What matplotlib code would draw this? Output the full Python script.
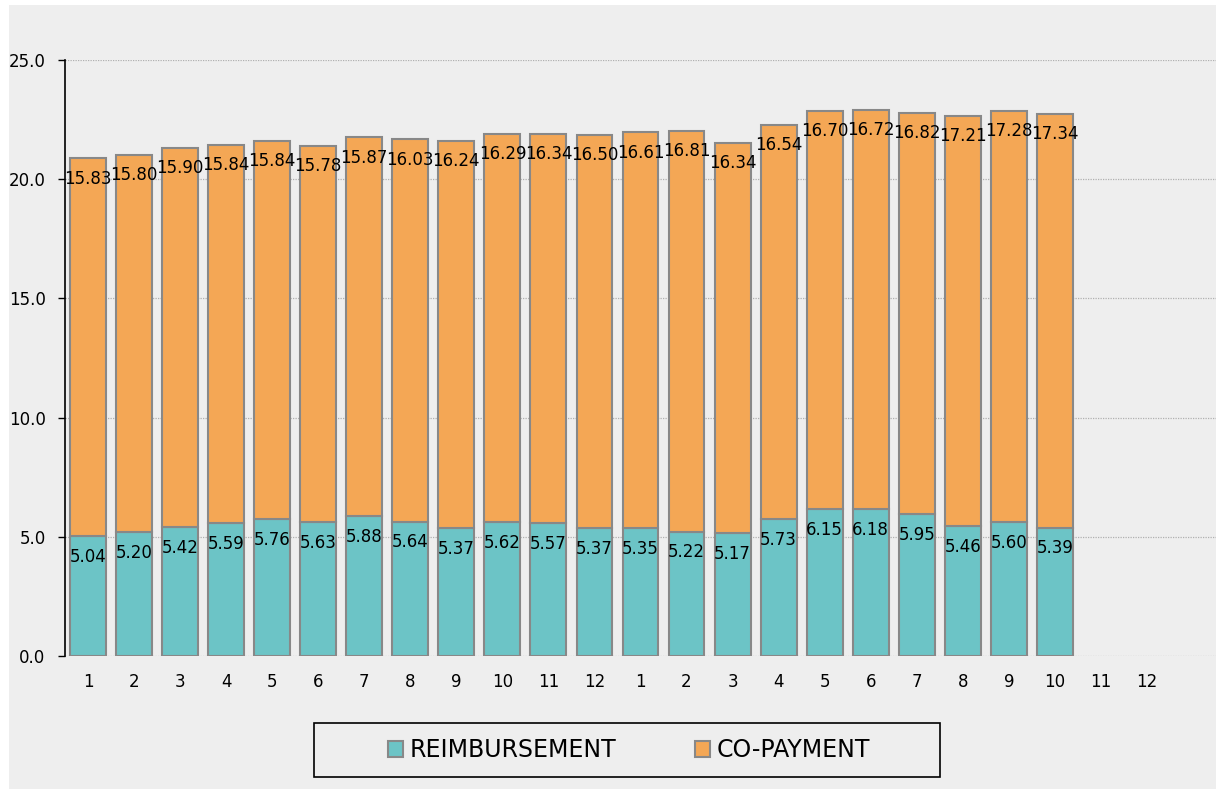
import matplotlib
matplotlib.use("Agg")
import matplotlib.pyplot as plt
from matplotlib.patches import Rectangle
import numpy as np

categories = ["1", "2", "3", "4", "5", "6", "7", "8", "9", "10", "11", "12",
              "1", "2", "3", "4", "5", "6", "7", "8", "9", "10", "11", "12"]
reimbursement = [5.04, 5.20, 5.42, 5.59, 5.76, 5.63, 5.88, 5.64, 5.37, 5.62, 5.57, 5.37,
                 5.35, 5.22, 5.17, 5.73, 6.15, 6.18, 5.95, 5.46, 5.60, 5.39]
copayment = [15.83, 15.80, 15.90, 15.84, 15.84, 15.78, 15.87, 16.03, 16.24, 16.29, 16.34, 16.50,
             16.61, 16.81, 16.34, 16.54, 16.70, 16.72, 16.82, 17.21, 17.28, 17.34]
series_names = ["REIMBURSEMENT", "CO-PAYMENT"]
yticks = [0, 5, 10, 15, 20, 25]

TEAL = "#6cc4c6"
ORANGE = "#f4a755"
EDGE = "#888888"
BG = "#eeeeee"

W, H = 1216, 789
fig = plt.figure(figsize=(W / 100, H / 100), dpi=100, facecolor="white")
# gray panel
fig.patches.append(Rectangle((9 / W, 0), 1 - 9 / W, 1 - 5 / H, transform=fig.transFigure,
                             facecolor=BG, edgecolor="none", zorder=-10))

ax = fig.add_axes([65 / W, 1 - 656 / H, (W - 65) / W, (656 - 60) / H])
ax.set_facecolor("none")

n = len(reimbursement)
x = np.arange(n)
bw = 0.78
ax.bar(x, reimbursement, width=bw, color=TEAL, edgecolor=EDGE, linewidth=1.5, zorder=3,
       label=series_names[0])
ax.bar(x, copayment, width=bw, bottom=reimbursement, color=ORANGE, edgecolor=EDGE,
       linewidth=1.5, zorder=3, label=series_names[1])

LBL = 12
for i in range(n):
    ax.annotate(f"{reimbursement[i]:.2f}", (x[i], reimbursement[i]), xytext=(0, -15),
                textcoords="offset points", ha="center", va="center", fontsize=LBL,
                color="black", zorder=5)
    top = reimbursement[i] + copayment[i]
    ax.annotate(f"{copayment[i]:.2f}", (x[i], top), xytext=(0, -14.5),
                textcoords="offset points", ha="center", va="center", fontsize=LBL,
                color="black", zorder=5)

ax.set_xlim(-0.5, 24.5)
ax.set_ylim(0, 25)
ax.set_xticks(np.arange(len(categories)))
ax.set_xticklabels(categories)
ax.set_yticks(yticks)
ax.set_yticklabels([f"{v:.1f}" for v in yticks])
ax.tick_params(axis="x", length=0, pad=12, labelsize=LBL)
ax.tick_params(axis="y", length=5, width=1, direction="out", pad=9, labelsize=LBL, color="black")

for s in ["top", "right", "bottom"]:
    ax.spines[s].set_visible(False)
ax.spines["left"].set_color("black")
ax.spines["left"].set_linewidth(1.2)
ax.spines["left"].set_zorder(4)

for v in yticks:
    ax.axhline(v, color="#b0b0b0", linestyle=(0, (1, 1)), linewidth=0.9, zorder=1)

# legend frame
fig.patches.append(Rectangle((314 / W, 1 - 777 / H), (940 - 314) / W, (777 - 723) / H,
                             transform=fig.transFigure, facecolor="none",
                             edgecolor="black", linewidth=1.2, zorder=5))
fig.legend(loc="center", bbox_to_anchor=(629 / W, 1 - 750 / H), ncol=2, frameon=False,
           fontsize=17, handlelength=0.64, handleheight=0.64, handletextpad=0.3,
           columnspacing=3.3)

fig.savefig("out.png", dpi=100, facecolor=fig.get_facecolor())
